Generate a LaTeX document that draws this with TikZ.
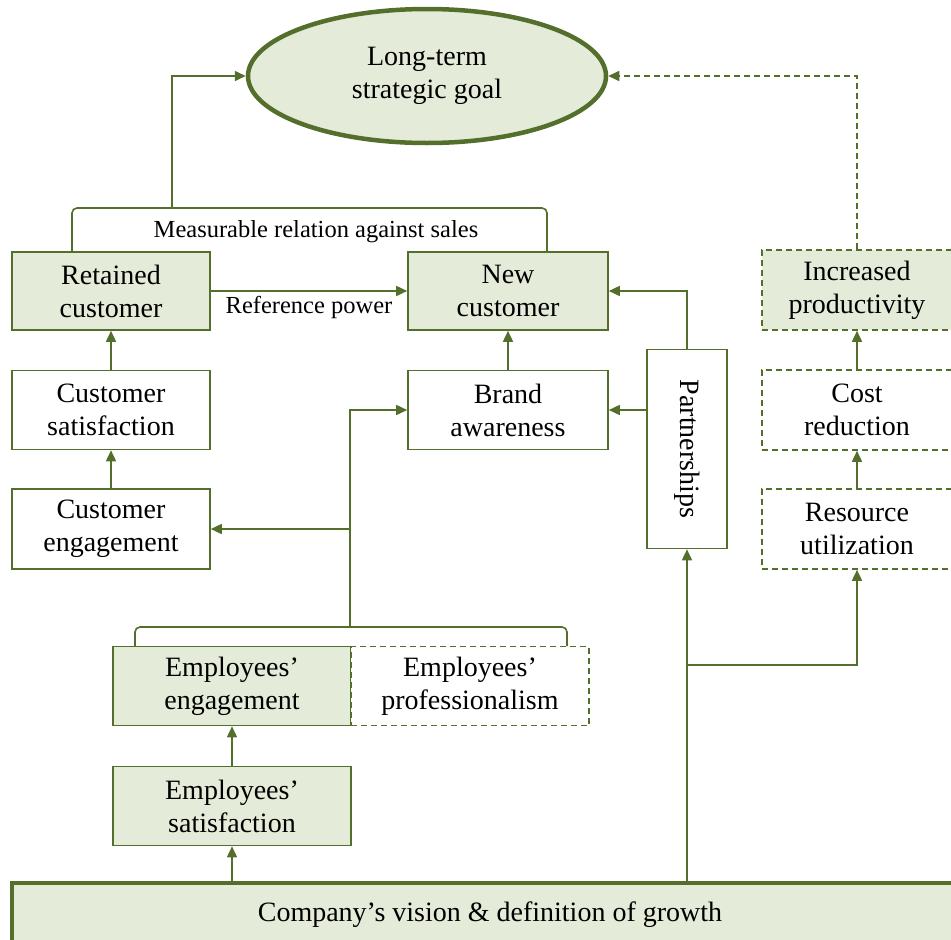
\documentclass[tikz,border=0pt]{standalone}
\usepackage{fontspec}
\setmainfont{Liberation Serif}
\usetikzlibrary{arrows.meta,shapes.geometric}
\definecolor{olive}{RGB}{84,110,44}
\definecolor{leaf}{RGB}{229,235,217}
\begin{document}
\begin{tikzpicture}[x=1pt,y=-1pt,
  txt/.style={font=\fontsize{28}{33}\selectfont,align=center,text=black},
  box/.style={txt,draw=olive,line width=1.6pt,rectangle,inner sep=0pt},
  solidbox/.style={box,fill=leaf},
  plainbox/.style={box,fill=white},
  dashbox/.style={box,dash pattern=on 6pt off 4pt},
  arr/.style={draw=olive,line width=1.6pt,-{Triangle[length=11pt,width=10pt]}},
  link/.style={draw=olive,line width=1.6pt},
  lbl/.style={font=\fontsize{24.5}{26}\selectfont,text=black}]
\useasboundingbox (0,0) rectangle (951,940);

% goal
\node[txt,ellipse,draw=olive,fill=leaf,line width=4.5pt,minimum width=358,minimum height=134,inner sep=0pt] (goal) at (427,76) {Long-term\\strategic goal};

% customer column
\node[solidbox,minimum width=198,minimum height=78] (ret) at (111,291) {Retained\\customer};
\node[plainbox,minimum width=198,minimum height=79] (csat) at (111,410) {Customer\\satisfaction};
\node[plainbox,minimum width=198,minimum height=80] (ceng) at (111,529) {Customer\\engagement};

% brand column
\node[solidbox,minimum width=200,minimum height=78] (newc) at (508,291) {New\\customer};
\node[plainbox,minimum width=200,minimum height=79] (brand) at (508,410) {Brand\\awareness};

% partnerships
\node[plainbox,minimum width=80,minimum height=199] (part) at (687,449) {};
\node[txt,rotate=-90] (parttxt) at (part.center) {Partnerships};

% productivity column
\node[dashbox,fill=leaf,minimum width=190,minimum height=80] (incp) at (857,290) {Increased\\productivity};
\node[dashbox,fill=white,minimum width=190,minimum height=80] (cost) at (857,410) {Cost\\reduction};
\node[dashbox,fill=white,minimum width=190,minimum height=80] (res) at (857,529) {Resource\\utilization};

% employees
\node[solidbox,minimum width=238,minimum height=79] (eeng) at (232,686) {Employees'\\engagement};
\node[dashbox,fill=white,minimum width=238,minimum height=79] (eprof) at (470,686) {Employees'\\professionalism};
\node[solidbox,minimum width=238,minimum height=79] (esat) at (232,806) {Employees'\\satisfaction};

% foundation bar
\node[txt,draw=olive,fill=leaf,line width=4.5pt,minimum width=956,minimum height=64,inner sep=0pt] (bar) at (490,915) {Company's vision \& definition of growth};

% top bracket
\coordinate (tl) at (72,251);
\coordinate (tr) at (547,251);
\coordinate (tm) at (172,208);
\draw[link,rounded corners=5pt] (tl) -- (72,208) -- (547,208) -- (tr);
\node[lbl] (meas) at (316,232) {Measurable relation against sales};
\draw[arr] (tm) |- (goal.west);

% reference power
\draw[arr] (ret.east) -- node[lbl,below=1pt] (refp) {Reference power} (newc.west);

% vertical links
\draw[arr] (csat.north) -- (ret.south);
\draw[arr] (ceng.north) -- (csat.south);
\draw[arr] (brand.north) -- (newc.south);
\draw[arr] (part.north) |- (newc.east);
\draw[arr] (part.west |- brand.east) -- (brand.east);

% employees bracket
\coordinate (bl) at (135,646);
\coordinate (br) at (567,646);
\coordinate (bm) at (350,627);
\draw[link,rounded corners=5pt] (bl) -- (135,627) -- (567,627) -- (br);
\draw[arr] (bm) |- (brand.west);
\coordinate (j1) at (350,529);
\draw[arr] (j1) -- (ceng.east);

\draw[arr] (esat.north) -- (eeng.south);
\draw[arr] (bar.north -| esat.south) -- (esat.south);

% partnerships and productivity feed
\draw[arr] (bar.north -| part.south) -- (part.south);
\coordinate (j2) at (687,665);
\draw[arr] (j2) -| (res.south);
\draw[arr] (res.north) -- (cost.south);
\draw[arr] (cost.north) -- (incp.south);
\draw[arr,dash pattern=on 6pt off 4pt] (incp.north) |- (goal.east);
\end{tikzpicture}
\end{document}
